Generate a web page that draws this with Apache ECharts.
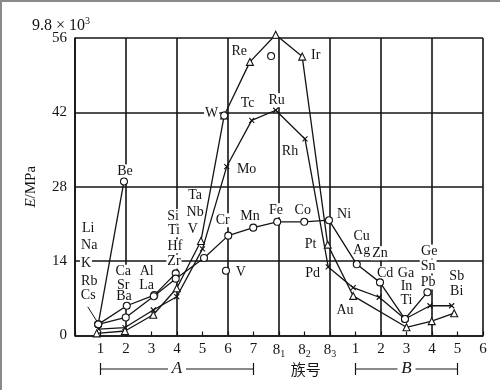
<!DOCTYPE html>
<html><head><meta charset="utf-8">
<script src="https://cdn.jsdelivr.net/npm/echarts@6/dist/echarts.min.js"></script>
<style>html,body{margin:0;padding:0;background:#fff}#c{width:500px;height:390px}</style>
</head><body><div id="c"></div><script>
// ---- data ----
const tickLabels = ['', '1','2','3','4','5','6','7','8_1','8_2','8_3','1','2','3','4','5','6'];
const yMin = 0, yMax = 56, yStep = 14;
// [group index, E (x9.8e3 MPa)]
const period2 = [[0.91,2.1],[1.92,29.0]];
const period3 = [[0.91,2.1],[2.03,5.6],[3.11,7.6],[3.95,11.7]];
const period4 = [[0.91,2.1],[1.99,3.4],[3.09,7.4],[3.95,10.7],[5.06,14.6],[6.01,18.8],[6.99,20.3],[7.93,21.4],[8.99,21.4],[9.96,21.7],[11.05,13.4],[11.96,10.0],[12.94,3.1],[13.82,8.15]];
const period5 = [[0.93,1.2],[1.96,1.5],[3.07,4.8],[3.99,7.3],[5.0,16.3],[5.95,31.8],[6.93,40.5],[7.87,42.4],[9.02,37.0],[9.93,12.9],[10.91,9.0],[11.93,7.2],[12.94,3.1],[13.92,5.6],[14.77,5.6]];
const period6 = [[0.85,0.4],[1.96,0.85],[3.07,3.9],[3.99,8.9],[4.94,17.8],[5.85,41.4],[6.86,51.5],[7.87,56.6],[8.91,52.5],[9.91,17.1],[10.91,7.45],[13.0,1.55],[13.99,2.7],[14.87,4.2]];
const singleCircles = [[5.92,12.2],[7.69,52.6],[5.85,41.4],[12.94,3.1]];
const csLeader = [[0.5,5.4],[0.91,2.3]];
const elementNames = ['Li','Na','K','Rb','Cs','Be','Ca','Sr','Ba','Al','La','Si','Ti','Hf','Zr','Ta','Nb','V','Cr','Mn','V','Mo','W','Re','Ir','Tc','Ru','Rh','Fe','Co','Ni','Pt','Pd','Cu','Ag','Au','Zn','Cd','Ga','In','Ti','Ge','Sn','Pb','Sb','Bi'];
const elementAt = [[0.52,20.2],[0.56,16.9],[0.43,13.5],[0.56,10.2],[0.52,7.6],[1.96,30.9],[1.89,12.0],[1.89,9.5],[1.92,7.3],[2.81,12.0],[2.81,9.5],[3.85,22.5],[3.88,19.8],[3.92,16.8],[3.88,13.9],[4.71,26.3],[4.71,23.2],[4.62,19.9],[5.79,21.7],[6.86,22.4],[6.5,11.8],[6.73,31.2],[5.36,41.8],[6.44,53.4],[9.44,52.7],[6.77,43.7],[7.91,44.3],[8.43,34.7],[7.88,23.6],[8.93,23.5],[10.55,22.8],[9.24,17.2],[9.32,11.7],[11.24,18.7],[11.24,16.1],[10.59,4.8],[11.96,15.5],[12.16,11.7],[12.98,11.7],[13.0,9.2],[13.0,6.7],[13.89,15.8],[13.85,13.0],[13.85,10.0],[14.97,11.1],[14.97,8.3]];
const groupA = [1, 7], groupB = [11, 15], groupTitleAt = 9.05;

// ---- chart ----
const SERIF = "'Liberation Serif','DejaVu Serif',serif";
const INK = '#141414';
const CROSS = 'path://M0,0L10,10M10,0L0,10';
const chart = echarts.init(document.getElementById('c'));

function periodSeries(name, data, symbol, size) {
  return {name, type:'line', data, symbol, symbolSize:size, showSymbol:true, xAxisIndex:0,
    lineStyle:{color:INK, width:1.3}, itemStyle:{color:'#fff', borderColor:INK, borderWidth:1.1, opacity:1},
    emphasis:{disabled:true}, z:3, clip:false};
}

chart.setOption({
  animation:false,
  backgroundColor:'#fff',
  title:{text:'{a|9.8 × 10}{s|3}', left:27, top:11,
    textStyle:{fontWeight:'normal', rich:{a:{fontFamily:SERIF, fontSize:16, fontWeight:'normal', color:INK}, s:{fontFamily:SERIF, fontSize:10, fontWeight:'normal', color:INK, padding:[0,0,9,0]}}}},
  grid:{left:75, right:17, top:38, bottom:54.5},
  xAxis:[
    {type:'value', min:0, max:16, interval:1, position:'bottom',
     axisLine:{lineStyle:{color:INK, width:1.6}},
     axisTick:{inside:true, length:4, lineStyle:{color:INK, width:1.2}},
     splitLine:{show:false},
     axisLabel:{margin:6, color:INK,
       formatter:function(v){const t = tickLabels[Math.round(v)] || ''; if(!t) return ''; const p=t.split('_'); return p.length>1 ? '{n|'+p[0]+'}{s|'+p[1]+'}' : '{n|'+t+'}';},
       rich:{n:{fontFamily:SERIF, fontSize:15, color:INK}, s:{fontFamily:SERIF, fontSize:10, color:INK, padding:[8,0,0,0]}}}},
    {type:'value', min:0, max:16, interval:2, position:'top',
     axisLine:{show:false}, axisTick:{show:false}, axisLabel:{show:false},
     splitLine:{show:true, lineStyle:{color:INK, width:1.6}}}
  ],
  yAxis:{type:'value', min:yMin, max:yMax, interval:yStep,
    name:'{i|E}{r|/MPa}', nameLocation:'middle', nameGap:36, nameRotate:90,
    nameTextStyle:{rich:{i:{fontFamily:SERIF, fontStyle:'italic', fontSize:15, color:INK}, r:{fontFamily:SERIF, fontSize:15, color:INK}}},
    axisLine:{show:true, lineStyle:{color:INK, width:1.6}}, axisTick:{show:false},
    axisLabel:{margin:8, fontFamily:SERIF, fontSize:15, color:INK},
    splitLine:{lineStyle:{color:INK, width:1.6}}},
  series:[
    periodSeries('p2', period2, 'circle', 7),
    periodSeries('p3', period3, 'circle', 7),
    periodSeries('p4', period4, 'circle', 7),
    periodSeries('p5', period5, CROSS, 5),
    periodSeries('p6', period6, 'triangle', 7),
    {type:'scatter', data:singleCircles, symbol:'circle', symbolSize:7,
     itemStyle:{color:'#fff', borderColor:INK, borderWidth:1.1, opacity:1}, z:4, emphasis:{disabled:true}},
    {type:'line', data:csLeader, symbol:'none', lineStyle:{color:INK, width:1}, z:2},
    {type:'scatter', symbolSize:0, z:1, emphasis:{disabled:true}, clip:false,
     itemStyle:{color:INK, opacity:1},
     data:elementNames.map((n,i)=>({name:n, value:elementAt[i]})),
     label:{show:true, position:'inside', formatter:'{b}', fontFamily:SERIF, fontSize:14, color:INK, opacity:1,
       textBorderWidth:0, backgroundColor:'#fff', padding:[0,1]}}
  ]
});

const px = v => chart.convertToPixel({xAxisIndex:0}, v);
const yb = 369;
const ln = (x1,y1,x2,y2) => ({type:'line', shape:{x1,y1,x2,y2}, style:{stroke:INK, lineWidth:1.2}});
const aL = px(groupA[0]), aR = px(groupA[1]), aC = px((groupA[0]+groupA[1])/2);
const bL = px(groupB[0]), bR = px(groupB[1]), bC = px((groupB[0]+groupB[1])/2);
chart.setOption({graphic:[
  {type:'rect', shape:{x:0,y:0,width:500,height:2}, style:{fill:'#8a8a8a'}},
  {type:'rect', shape:{x:0,y:0,width:2,height:390}, style:{fill:'#8a8a8a'}},
  ln(aL,yb,aC-9,yb), ln(aC+9,yb,aR,yb), ln(aL,yb-6,aL,yb+6), ln(aR,yb-6,aR,yb+6),
  {type:'text', x:aC, y:yb, style:{text:'A', fontFamily:SERIF, fontStyle:'italic', fontSize:17, fill:INK, align:'center', verticalAlign:'middle'}},
  ln(bL,yb,bC-9,yb), ln(bC+9,yb,bR,yb), ln(bL,yb-6,bL,yb+6), ln(bR,yb-6,bR,yb+6),
  {type:'text', x:bC, y:yb, style:{text:'B', fontFamily:SERIF, fontStyle:'italic', fontSize:17, fill:INK, align:'center', verticalAlign:'middle'}},
  {type:'text', x:px(groupTitleAt), y:yb, style:{text:'族号', fontFamily:"'Noto Sans CJK SC',sans-serif", fontSize:15, fill:INK, align:'center', verticalAlign:'middle'}}
]});
</script></body></html>
